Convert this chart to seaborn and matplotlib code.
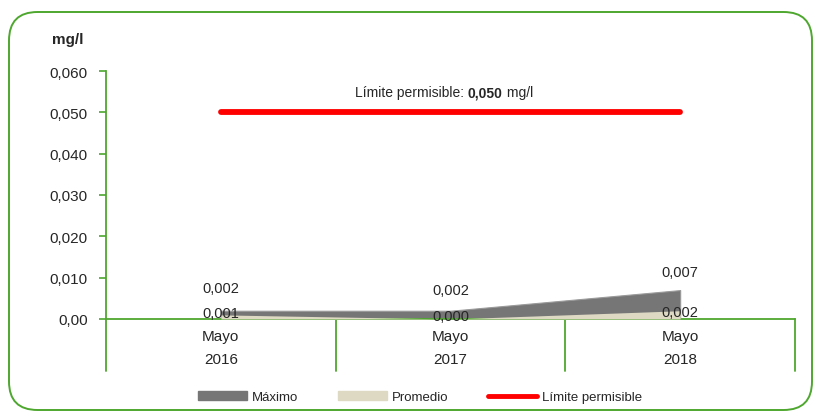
import matplotlib
matplotlib.use("Agg")
import matplotlib.pyplot as plt
import matplotlib.patches as mpatches
import matplotlib.lines as mlines
from matplotlib.patches import FancyBboxPatch
import seaborn as sns
import pandas as pd

# Data
periodos = ["Mayo\n2016", "Mayo\n2017", "Mayo\n2018"]
maximo = [0.002, 0.002, 0.007]
promedio = [0.001, 0.000, 0.002]
limite = [0.050, 0.050, 0.050]
y_ticks = [0.00, 0.01, 0.02, 0.03, 0.04, 0.05, 0.06]
y_tick_labels = ["0,00", "0,010", "0,020", "0,030", "0,040", "0,050", "0,060"]

sns.set_style("white")
plt.rcParams["font.family"] = ["Liberation Sans", "DejaVu Sans"]

GREEN = "#4EA72E"
GRAY = "#767676"
BEIGE = "#DDD9C3"
RED = "#FF0000"


def fmt(v):
    return f"{v:.3f}".replace(".", ",")


fig = plt.figure(figsize=(8.15, 4.14), dpi=100)
ax = fig.add_axes([106 / 815, 1 - 320 / 414, (795 - 106) / 815, (320 - 72) / 414])

x = list(range(len(periodos)))
df = pd.DataFrame({"x": x, "maximo": maximo, "promedio": promedio, "limite": limite})

ax.fill_between(df["x"], 0, df["maximo"], color=GRAY, linewidth=0.8, edgecolor="#9a9a9a", zorder=2)
ax.fill_between(df["x"], 0, df["promedio"], color=BEIGE, linewidth=0, zorder=3)
sns.lineplot(data=df, x="x", y="limite", color=RED, linewidth=4.2,
             solid_capstyle="round", ax=ax, zorder=4)

ax.set_xlim(-0.5, 2.5)
ax.set_ylim(0, 0.06)
ax.set_yticks(y_ticks)
ax.set_yticklabels(y_tick_labels, fontsize=11)
ax.set_xticks(x)
ax.set_xticklabels(periodos, fontsize=11, linespacing=1.75)
ax.set_xlabel("")
ax.set_ylabel("")
ax.tick_params(axis="y", which="both", left=True, length=5, color=GREEN, width=1.2, pad=8)
ax.tick_params(axis="x", which="both", bottom=False, pad=4)

for side in ["top", "right"]:
    ax.spines[side].set_visible(False)
for side in ["left", "bottom"]:
    ax.spines[side].set_color(GREEN)
    ax.spines[side].set_linewidth(1.3)

# Category separators extending below the axis
for xs in [-0.5, 0.5, 1.5, 2.5]:
    ax.plot([xs, xs], [0, -0.0125], color=GREEN, linewidth=1.3, clip_on=False, zorder=1)

# Value labels: maximum above the area, average near its edge
max_pos = [0.0075, 0.0070, 0.0113]
avg_pos = [0.0015, 0.0008, 0.0017]
for xi, v, yp in zip(x, maximo, max_pos):
    ax.text(xi, yp, fmt(v), ha="center", va="center", fontsize=10.5)
for xi, v, yp in zip(x, promedio, avg_pos):
    ax.text(xi, yp, fmt(v), ha="center", va="center", fontsize=10.5, zorder=5)

# Limit annotation, built from consecutive pieces
t1 = ax.text(355 / 815, 1 - 93 / 414, "Límite permisible: ", transform=fig.transFigure,
             ha="left", va="center", fontsize=10)
t2 = ax.annotate("0,050", xy=(1, 0.5), xycoords=t1, ha="left", va="center",
                 fontsize=10, fontweight="bold")
ax.annotate(" mg/l", xy=(1, 0.5), xycoords=t2, ha="left", va="center", fontsize=10)

fig.text(52 / 815, 1 - 40 / 414, "mg/l", fontsize=11, fontweight="bold", ha="left", va="center")

# Legend
handles = [
    mpatches.Patch(color=GRAY, label="Máximo"),
    mpatches.Patch(color=BEIGE, label="Promedio"),
    mlines.Line2D([], [], color=RED, linewidth=3.5, label="Límite permisible"),
]
fig.legend(handles=handles, loc="center", bbox_to_anchor=(420 / 815, 1 - 398 / 414),
           ncol=3, frameon=False, fontsize=9.5, handlelength=3.7, handleheight=0.6,
           handletextpad=0.4, columnspacing=3.0)

# Rounded outer frame
frame = FancyBboxPatch((9 / 815, 1 - 411 / 414), (812 - 9) / 815, (411 - 13) / 414,
                       boxstyle="round,pad=0,rounding_size=0.035",
                       transform=fig.transFigure, fill=False, edgecolor=GREEN,
                       linewidth=1.4, mutation_aspect=815 / 414)
fig.patches.append(frame)

fig.savefig("out.png", dpi=100)
